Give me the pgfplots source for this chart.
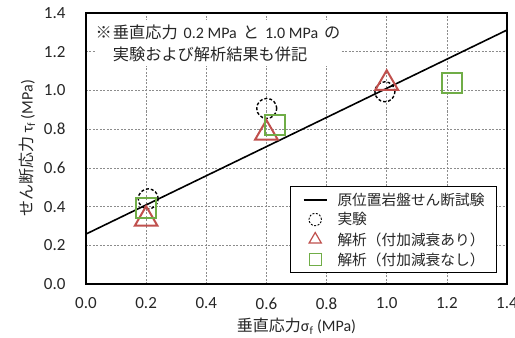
\documentclass[border=0pt]{standalone}
\usepackage{fontspec}
\setmainfont{Carlito}
\newfontfamily\jp{Noto Sans CJK JP}
\usepackage{pgfplots}
\pgfplotsset{compat=1.18}
\definecolor{myred}{HTML}{C0504D}
\definecolor{mygreen}{HTML}{70AD47}
\definecolor{txt}{HTML}{262626}
\newcommand\J[1]{{\jp\fontsize{16.2bp}{21.7bp}\selectfont #1}}
\newcommand\Lt[1]{{\fontsize{16bp}{21.7bp}\selectfont #1}}
\begin{document}
\begin{tikzpicture}
\begin{axis}[
  scale only axis,
  width=421bp, height=271bp,
  xmin=0, xmax=1.4, ymin=0, ymax=1.4,
  xtick={0,0.2,...,1.4}, ytick={0,0.2,...,1.4},
  /pgf/number format/fixed,
  /pgf/number format/fixed zerofill,
  /pgf/number format/precision=1,
  /pgf/number format/assume math mode=true,
  tick label style={font=\fontsize{17bp}{19bp}\selectfont, color=txt},
  xticklabel style={yshift=-10bp},
  yticklabel style={xshift=-17bp},
  major tick length=0pt,
  axis line style={black, line width=1.5bp},
  grid=major,
  major grid style={gray!90, line width=0.6bp, dash pattern=on 2bp off 1.5bp},
  xlabel={{\jp 垂直応力}σ\textsubscript{f} (MPa)},
  ylabel={{\jp せん断応力}\hspace{4bp}τ\textsubscript{f} (MPa)},
  label style={font=\fontsize{16bp}{18bp}\selectfont, color=txt},
  xlabel style={yshift=-2bp},
  ylabel style={yshift=2bp},
  legend style={at={(0.976,0.0406)}, anchor=south east, draw=black, line width=0.8bp,
    font=\jp\fontsize{14.7bp}{17bp}\selectfont, text=txt, inner xsep=10bp, inner ysep=4bp,
    row sep=2bp, column sep=8bp, cells={anchor=west}},
  legend cell align=left,
  clip=false,
]
\addplot[black, line width=1.6bp, legend image code/.code={\path (0,0) (26bp,0); \draw[black, line width=1.6bp] (3bp,0) -- (26bp,0);}]
 coordinates {(0,0.258) (1.4,1.312)};
\addlegendentry{原位置岩盤せん断試験}
\addplot[only marks, mark=o, mark size=10bp, mark options={draw=black, line width=1.4bp, dash pattern=on 3bp off 2bp},
  legend image code/.code={\path (0,0) (26bp,0); \draw[black, line width=0.9bp, dash pattern=on 2bp off 1.5bp] (14.5bp,0) circle (6.2bp);}]
 coordinates {(0.207,0.44) (0.601,0.907) (0.994,0.993)};
\addlegendentry{実験}
\addplot[only marks, mark=triangle, mark size=13bp, mark options={draw=myred, line width=2bp, solid},
  legend image code/.code={\path (0,0) (26bp,0); \draw[myred, line width=1.2bp, line join=miter] (14.5bp,7bp) -- (20.6bp,-3.5bp) -- (8.4bp,-3.5bp) -- cycle;}]
 coordinates {(0.2,0.335) (0.6,0.78) (1.0,1.037)};
\addlegendentry{解析（付加減衰あり）}
\addplot[only marks, mark=square, mark size=10bp, mark options={draw=mygreen, line width=2bp, solid},
  legend image code/.code={\path (0,0) (26bp,0); \draw[mygreen, line width=1.4bp] (8.5bp,-6bp) rectangle (20.5bp,6bp);}]
 coordinates {(0.2,0.395) (0.63,0.82) (1.216,1.04)};
\addlegendentry{解析（付加減衰なし）}
\node[anchor=north west, fill=white, inner xsep=0.5bp, inner ysep=4.5bp, align=left,
  font=\fontsize{16bp}{21.7bp}\selectfont, text=txt] at (axis cs:0.03,1.364)
  {\J{※}\hspace{1bp}\J{垂直応力}\hspace{6bp}\Lt{0.2 MPa}\hspace{6bp}\J{と}\hspace{6bp}\Lt{1.0 MPa}\hspace{6bp}\J{の}\\
   \hspace*{17.2bp}\J{実験および解析結果も併記}};
\end{axis}
\pgfresetboundingbox
\path[use as bounding box] (-86bp,-54bp) rectangle (429bp,284bp);
\end{tikzpicture}
\end{document}
